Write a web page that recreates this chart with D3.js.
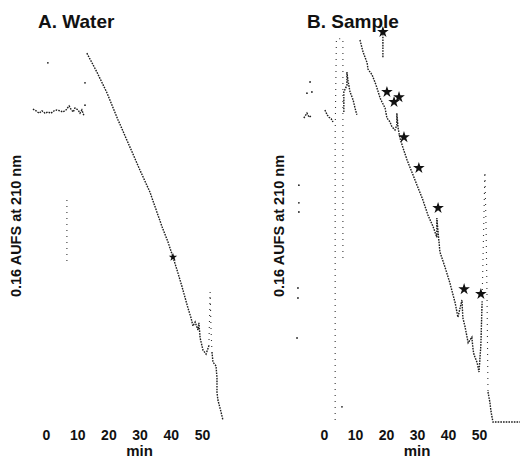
<!DOCTYPE html>
<html>
<head>
<meta charset="utf-8">
<script src="https://cdn.jsdelivr.net/npm/d3@7"></script>
<style>
  body { margin: 0; background: #fff; }
  text { font-family: "Liberation Sans", Arial, sans-serif; font-weight: bold; fill: #111; }
</style>
</head>
<body>
<div id="chart"></div>
<script>
// values: [minutes, % of full scale (0.16 AUFS)]
const tickMinutes = [0, 10, 20, 30, 40, 50];

// A. Water
const waterBaseline = [[-4.2,80.2],[-3.2,79.8],[-2.2,79.2],[-1.3,79.8],[-0.3,79.2],[0.6,79.5],[1.6,79.2],[2.6,79.8],[3.5,80],[4.5,79.8],[5.4,79.5],[6.4,80],[7.4,81],[8,80.2],[8.7,79.5],[9.3,80.5],[10.3,80],[10.9,79.2],[11.5,80],[12.2,78.5]];
const waterInjection = [[6.7,57.5],[6.7,42]];
const waterGradient = [[13.1,94.2],[16.3,89.5],[19.6,84.2],[23.1,77.5],[26.3,71.8],[30.1,65],[33.3,59.5],[37.2,50.8],[39.1,47],[40.7,43.2],[42,40],[43.6,35.8],[45.5,30.5],[46.5,28],[47.1,26],[47.8,27],[48.7,25],[49,26.8],[49.4,23],[50.3,20],[51.3,19],[52.2,21]];
const waterPeak = [[52.2,21],[52.5,30.5],[52.6,34.5],[52.9,25],[53.2,19.5]];
const waterTail = [[53.2,19.5],[53.5,17],[54.5,16],[54.8,13],[54.8,9.5],[55.1,7.5],[56.1,4.5],[56.7,2.5]];
const waterDots = [[0.6,91.8],[12.5,86.8],[12.5,81.2]];
const waterStars = [[40.7,43.2]];

// B. Sample
const sampleBaseline = [[-6.5,78],[-5.5,79.2],[-4.8,78.2],[-4.2,78.5]];
const sampleEarly = [[0.3,80],[1,78.8],[1.6,78.2],[2.3,77.8],[2.9,77]];
const sampleFront = [[3.6,2.5],[3.6,32.5],[3.6,73.8],[4,97.8],[6.1,97.8],[6.1,77.5],[6.1,43]];
const sampleHump = [[6.4,79.5],[6.4,84.5],[7.4,86.2],[7.4,89.5],[7.7,87.5],[8.4,84.5],[9.4,82.5],[10,80.5],[10.6,78.8]];
const sampleGradient = [[11.6,97.5],[12.6,94.5],[13.9,91.8],[14.2,90.2],[15.5,88.8],[16.8,86.2],[18.1,83],[18.7,82],[19.7,80.5],[20.3,78],[21.3,77],[21.9,75.8],[22.9,75],[23.5,76.2],[23.5,79.2],[23.9,75.5],[24.5,73],[25.5,70.5],[26.8,67.5],[28.7,63.8],[30,61.2],[31.9,57.5],[33.5,53.8],[35.2,50.8],[36.4,48.2],[36.4,53],[36.8,49.5],[37.4,44.5],[39,40.8],[40.6,36.8],[42.3,31.8],[43.2,28.2],[44.5,32.5],[44.8,28],[45.5,25.8],[46.5,21.8],[47.7,23.2],[48.1,20],[48.4,18.8],[49.4,16.8],[50,14.5],[50.6,21.2],[51,32]];
const samplePeak = [[51,32],[51.3,43],[51.9,64.5],[52.3,50],[52.6,32.5],[52.9,9.5]];
const sampleTail = [[52.9,9.5],[53.5,7],[53.9,4.5],[54.5,2],[63.2,2]];
const sampleSpike = [[19,93.2],[19,99.5]];
const sampleDots = [[-8.1,61.2],[-8.1,56.8],[-8.1,54.5],[-8.4,35.5],[-8.4,33],[-8.7,23],[-4.5,87],[-5.5,84.2],[-3.9,84.5],[5.8,5.8]];
const sampleStars = [[19,99.5],[20.3,84.5],[22.6,82],[24.2,83.2],[25.8,73.2],[30.6,65.5],[36.8,55.5],[45.2,35.2],[50.6,34]];

const width = 520, height = 460;

const svg = d3.select("#chart").append("svg")
  .attr("width", width)
  .attr("height", height);

let y = d3.scaleLinear().domain([0, 100]).range([430, 30]);

const panels = [
  { title: "A. Water", titleX: 38, labelX: 21,
    x: d3.scaleLinear().domain([-5, 60]).range([30.4, 233.2]),
    dense: [waterBaseline, waterGradient, waterTail], sparse: [waterInjection, waterPeak],
    dots: waterDots, stars: waterStars, starSize: 22 },
  { title: "B. Sample", titleX: 307, labelX: 284,
    x: d3.scaleLinear().domain([-10, 64]).range([293, 522.4]),
    dense: [sampleBaseline, sampleEarly, sampleHump, sampleGradient, sampleTail, sampleSpike], sparse: [sampleFront, samplePeak],
    dots: sampleDots, stars: sampleStars, starSize: 42 }
];

panels.forEach(p => {
  let g = svg.append("g");
  let line = d3.line().x(d => p.x(d[0])).y(d => y(d[1]));

  g.selectAll("path.dense")
    .data(p.dense)
    .join("path")
    .attr("class", "dense")
    .attr("d", line)
    .attr("fill", "none")
    .attr("stroke", "#1c1c1c")
    .attr("stroke-width", 1.4)
    .attr("stroke-dasharray", "1.6 1.1");

  g.selectAll("path.sparse")
    .data(p.sparse)
    .join("path")
    .attr("class", "sparse")
    .attr("d", line)
    .attr("fill", "none")
    .attr("stroke", "#333")
    .attr("stroke-width", 1.1)
    .attr("stroke-dasharray", "1 5");

  g.selectAll("circle")
    .data(p.dots)
    .join("circle")
    .attr("cx", d => p.x(d[0]))
    .attr("cy", d => y(d[1]))
    .attr("r", 0.9)
    .attr("fill", "#222");

  g.selectAll("path.star")
    .data(p.stars)
    .join("path")
    .attr("class", "star")
    .attr("d", d3.symbol(d3.symbolStar, p.starSize))
    .attr("transform", d => `translate(${p.x(d[0])},${y(d[1])})`)
    .attr("fill", "#111");

  // x axis: labels only, no line
  let axis = g.append("g")
    .attr("transform", "translate(0,427)")
    .call(d3.axisBottom(p.x).tickValues(tickMinutes).tickSize(0).tickPadding(3));
  axis.select(".domain").remove();
  axis.selectAll("text")
    .style("font-size", "14px")
    .style("font-family", "'Liberation Sans', Arial, sans-serif")
    .style("font-weight", "bold")
    .attr("fill", "#111");

  g.append("text")
    .text("min")
    .attr("x", p.x(30))
    .attr("y", 456)
    .attr("text-anchor", "middle")
    .style("font-size", "15px");

  g.append("text")
    .text(p.title)
    .attr("x", p.titleX)
    .attr("y", 28)
    .style("font-size", "19px");

  g.append("text")
    .text("0.16 AUFS at 210 nm")
    .attr("transform", `translate(${p.labelX},226) rotate(-90)`)
    .attr("text-anchor", "middle")
    .style("font-size", "14.5px");
});
</script>
</body>
</html>
